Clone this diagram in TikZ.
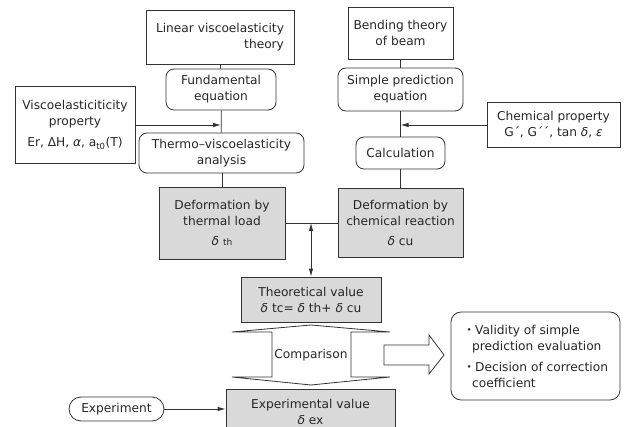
\documentclass[tikz,border=0pt]{standalone}
\usepackage{fontspec}
\setmainfont{DejaVu Sans}
\newfontfamily\cjk{Noto Sans CJK JP}
\usepackage{tikz}
\usetikzlibrary{arrows.meta, positioning, calc}
\newcommand{\dl}{\textit{δ}}

\begin{document}
\begin{tikzpicture}[x=1pt, y=-1pt,
        every node/.style={font=\fontsize{12.2}{16}\selectfont, text=black!85, inner sep=0pt},
        plain/.style={rectangle, draw=black!80, line width=0.8pt, align=center, minimum width=#1},
        rnd/.style={rectangle, draw=black!80, line width=0.8pt, rounded corners=8pt, align=center, minimum width=#1},
        res/.style={rectangle, draw=black!80, line width=0.8pt, fill=gray!30, align=center, minimum width=#1},
        link/.style={draw=black!80, line width=0.8pt},
        arrow/.style={-{Latex[length=8pt, width=4.5pt]}, draw=black!80, line width=0.8pt},
        dblarrow/.style={{Latex[length=8pt, width=4.5pt]}-{Latex[length=8pt, width=4.5pt]}, draw=black!80, line width=0.8pt}
    ]
        \useasboundingbox (0,0) rectangle (636,427);
        \clip (0,0) rectangle (636,427);

        % Left column
        \node[plain=148pt, minimum height=54pt, align=right] (lvt) at (220,37) {Linear viscoelasticity\\theory};
        \node[rnd=110pt, minimum height=41pt] (fund) at (221,89.5) {Fundamental\\equation};
        \node[rnd=165pt, minimum height=40pt] (thermo) at (221.5,153) {Thermo--viscoelasticity\\analysis};
        \node[res=126pt, minimum height=72pt] (defth) at (222,223) {Deformation by\\thermal load\\[4pt]\dl{} {\small th}};
        \node[plain=120pt, minimum height=77pt] (visc) at (75,125) {Viscoelasticiticity\\property\\[5pt]Er, ΔH, \textit{α}, a\textsubscript{t0}(T)};

        % Right column
        \node[plain=105pt, minimum height=52pt] (bend) at (400.5,33) {Bending theory\\of beam};
        \node[rnd=125pt, minimum height=43pt] (simple) at (400.5,89.5) {Simple prediction\\equation};
        \node[rnd=89pt, minimum height=32pt] (calc) at (400.5,153) {Calculation};
        \node[res=125pt, minimum height=69pt] (defcu) at (400.5,223) {Deformation by\\chemical reaction\\[4pt]\dl{} cu};
        \node[plain=133pt, minimum height=45pt] (chem) at (553.5,125) {Chemical property\\G´, G´´, tan \dl,  \textit{ε}};

        % Comparison
        \node[res=140pt, minimum height=45pt] (theo) at (311,299.5) {Theoretical value\\\dl{} tc= \dl{} th+ \dl{} cu};
        \node[res=169pt, minimum height=46pt] (exp) at (310.5,412) {Experimental value\\\dl{} ex};
        \node[rectangle, draw=black!80, line width=0.8pt, rounded corners=12pt, minimum width=95pt, minimum height=24pt] (expt) at (116.5,409) {Experiment};
        \node[rectangle, draw=black!80, line width=0.8pt, rounded corners=10pt, minimum width=169pt, minimum height=88pt, align=left] (out) at (535.5,356)
            {{\cjk ・}Validity of simple\\\hspace{0.75em}prediction evaluation\\[5pt]{\cjk ・}Decision of correction\\\hspace{0.75em}coefficient};

        \draw[link, fill=white] (232,332) -- (311,325) -- (390,332) -- (351,332) -- (351,377) -- (390,377)
            -- (311,385) -- (232,377) -- (272,377) -- (272,332) -- cycle;
        \node (cmp) at (311,355) {Comparison};
        \draw[link, fill=white] (384,345) -- (429,345) -- (429,335) -- (444,355) -- (429,374) -- (429,365) -- (384,365) -- cycle;

        % Connectors
        \draw[link] (lvt) -- (fund);
        \draw[link] (fund) -- (thermo);
        \draw[link] (thermo.south -| defth) -- (defth);
        \draw[link] (bend) -- (simple);
        \draw[link] (simple) -- (calc);
        \draw[link] (calc) -- (defcu);
        \draw[link] (defth) -- (defcu);
        \coordinate (vj) at (fund.south |- visc.east);
        \coordinate (cj) at (simple.south |- chem.west);
        \coordinate (tj) at (theo.north |- defth.east);
        \draw[arrow] (visc) -- (vj);
        \draw[arrow] (chem) -- (cj);
        \draw[dblarrow] (tj) -- (theo);
        \draw[arrow] (expt) -- (expt -| exp.west);
    \end{tikzpicture}
\end{document}
